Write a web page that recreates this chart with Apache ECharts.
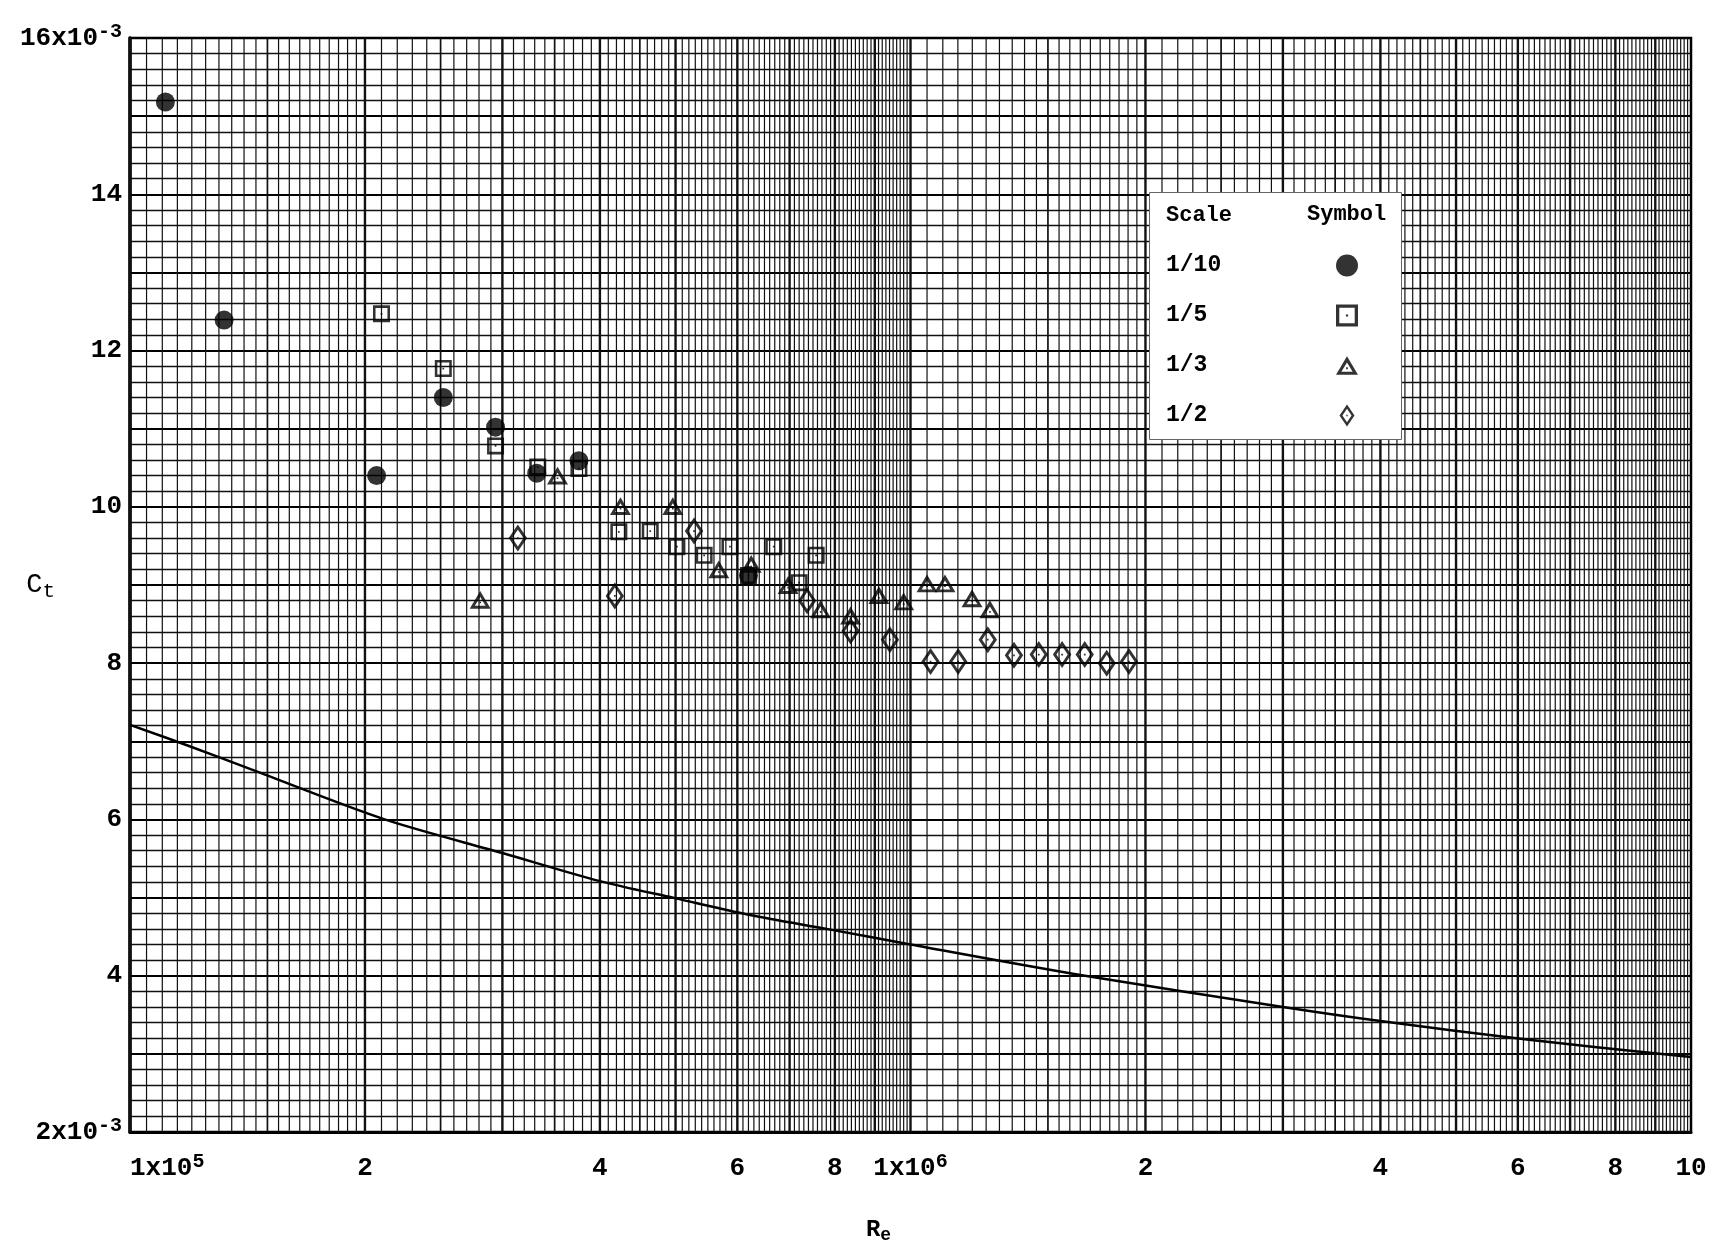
<!DOCTYPE html>
<html>
<head>
<meta charset="utf-8">
<title>Ct vs Re</title>
<script src="https://cdn.jsdelivr.net/npm/echarts@6/dist/echarts.min.js"></script>
<style>
  html, body { margin: 0; padding: 0; background: #fff; }
  #main { width: 1722px; height: 1243px; }
</style>
</head>
<body>
<div id="main"></div>
<script>
// x tick labels (Reynolds number)
var reTicks = [1e5, 2e5, 4e5, 6e5, 8e5, 1e6, 2e6, 4e6, 6e6, 8e6, 1e7];

// [Re, Ct x 10^3]
var scale10 = [[1.11e5, 15.18], [1.32e5, 12.39], [2.07e5, 10.40], [2.52e5, 11.40], [2.94e5, 11.02],
  [3.32e5, 10.43], [3.76e5, 10.59], [6.2e5, 9.12]];
var scale5 = [[2.10e5, 12.47], [2.52e5, 11.77], [2.94e5, 10.78], [3.33e5, 10.51], [3.76e5, 10.49],
  [4.23e5, 9.68], [4.64e5, 9.69], [5.02e5, 9.49], [5.44e5, 9.38], [5.87e5, 9.49], [6.2e5, 9.12],
  [6.68e5, 9.49], [7.2e5, 9.03], [7.57e5, 9.38]];
var scale3 = [[2.81e5, 8.81], [3.53e5, 10.40], [4.25e5, 10.01], [4.96e5, 10.01], [5.68e5, 9.20],
  [6.25e5, 9.27], [6.97e5, 9.00], [7.67e5, 8.69], [8.38e5, 8.61], [9.11e5, 8.87], [9.80e5, 8.79],
  [1.05e6, 9.02], [1.107e6, 9.02], [1.199e6, 8.83], [1.264e6, 8.69]];
var scale2 = [[3.14e5, 9.60], [4.18e5, 8.86], [5.28e5, 9.69], [7.37e5, 8.80], [8.38e5, 8.41],
  [9.41e5, 8.30], [1.061e6, 8.02], [1.151e6, 8.02], [1.256e6, 8.30], [1.357e6, 8.10], [1.46e6, 8.11],
  [1.564e6, 8.11], [1.672e6, 8.11], [1.784e6, 8.00], [1.905e6, 8.02]];

// friction line
var lineRe = [1e5, 1.19e5, 1.43e5, 2.12e5, 3.0e5, 4.0e5, 5.0e5, 6.2e5, 7.9e5, 1.0e6, 1.65e6, 3.0e6, 4.0e6, 6.2e6, 1e7];
var lineCt = [7.21, 6.94, 6.64, 6.00, 5.57, 5.21, 4.99, 4.78, 4.59, 4.40, 4.01, 3.60, 3.42, 3.18, 2.96];

var FONT = '"Liberation Mono", "DejaVu Sans Mono", monospace';

// log graph paper rulings (vertical)
var paper = [];
[1e5, 1e6].forEach(function (dec) {
  for (var m = 100; m < 1000; m += 5) {
    if (m >= 200 && m % 10 !== 0) continue;
    var lvl = 0;
    if (m % 100 === 0) lvl = 2;
    else if (m < 500 && m % 50 === 0) lvl = 1;
    paper.push([dec * m / 100, 9, lvl]);
  }
});
var paperWidth = [1.2, 1.7, 2.4];

// open symbols with a centre dot (outer ring + hole + dot)
var SQ = 'path://M0,0L20,0L20,20L0,20Z M3,3L3,17L17,17L17,3Z M9,9L11,9L11,11L9,11Z';
var TRI = 'path://M10,0L20,17L0,17Z M10,5.8L4.9,14.2L15.1,14.2Z M9.2,10.2L10.8,10.2L10.8,11.8L9.2,11.8Z';
var DIA = 'path://M7.5,0L15,11L7.5,22L0,11Z M7.5,4.2L2.9,11L7.5,17.8L12.1,11Z M6.8,10.3L8.2,10.3L8.2,11.7L6.8,11.7Z';

var tickRich = {
  m: { fontFamily: FONT, fontWeight: 'bold', fontSize: 26, color: '#000', lineHeight: 32 },
  s: { fontFamily: FONT, fontWeight: 'bold', fontSize: 20, color: '#000', verticalAlign: 'top', lineHeight: 18 }
};

var chart = echarts.init(document.getElementById('main'));
chart.setOption({
  backgroundColor: '#fff',
  animation: false,
  grid: {
    left: 130, right: 31, top: 38, bottom: 111,
    outerBoundsMode: 'none',
    show: true, borderColor: '#000', borderWidth: 2.5, backgroundColor: '#fff'
  },
  xAxis: {
    type: 'log',
    logBase: 10,
    min: 1e5,
    max: 1e7,
    name: '{r|R}{e|e}',
    nameLocation: 'middle',
    nameGap: 84,
    nameMoveOverlap: false,
    nameTextStyle: {
      padding: [0, 64, 0, 0],
      rich: {
        r: { fontFamily: FONT, fontWeight: 'bold', fontSize: 24, color: '#000' },
        e: { fontFamily: FONT, fontWeight: 'bold', fontSize: 18, color: '#000', verticalAlign: 'bottom', padding: [10, 0, 0, 0] }
      }
    },
    axisLine: { lineStyle: { color: '#000', width: 3 } },
    axisTick: { show: false },
    splitLine: { show: false },
    axisLabel: {
      customValues: reTicks,
      margin: 20,
      alignMinLabel: 'left',
      formatter: function (v) {
        var p = Math.floor(Math.log10(v) + 1e-9);
        var d = Math.round(v / Math.pow(10, p));
        if (v >= 9.9e6) return '{m|10}';
        if (d === 1) return '{m|1x10}{s|' + p + '}';
        return '{m|' + d + '}';
      },
      rich: tickRich
    }
  },
  yAxis: {
    type: 'value',
    min: 2,
    max: 16,
    interval: 1,
    name: '{c|C}{t|t}',
    nameLocation: 'middle',
    nameRotate: 0,
    nameGap: 75,
    nameMoveOverlap: false,
    nameTextStyle: {
      rich: {
        c: { fontFamily: FONT, fontSize: 27, color: '#000' },
        t: { fontFamily: FONT, fontSize: 21, color: '#000', verticalAlign: 'bottom', padding: [12, 0, 0, 0] }
      }
    },
    axisLine: { show: true, lineStyle: { color: '#000', width: 3.5 } },
    axisTick: { show: false },
    minorTick: { show: false, splitNumber: 5 },
    splitLine: { show: true, lineStyle: { color: '#000', width: 2.2 } },
    minorSplitLine: { show: true, lineStyle: { color: '#111', width: 1.3 } },
    axisLabel: {
      margin: 8,
      formatter: function (v) {
        if (v === 16 || v === 2) return '{m|' + v + 'x10}{s|-3}';
        if (v % 2 === 0) return '{m|' + v + '}';
        return '';
      },
      rich: tickRich
    }
  },
  legend: {
    data: ['1/10', '1/5', '1/3', '1/2'],
    orient: 'vertical',
    left: 1166,
    top: 254,
    padding: 0,
    align: 'right',
    itemWidth: 22,
    itemHeight: 22,
    itemGap: 27,
    z: 20,
    selectedMode: false,
    formatter: '{a|{name}}',
    textStyle: {
      rich: {
        a: { fontFamily: FONT, fontWeight: 'bold', fontSize: 23, color: '#000', width: 165, lineHeight: 22, align: 'left' }
      }
    }
  },
  graphic: [
    { type: 'rect', left: 1149, top: 192, z: 10, shape: { width: 252, height: 247 },
      style: { fill: '#fff', stroke: '#666', lineWidth: 1 } },
    { type: 'text', left: 1166, top: 204, z: 21,
      style: { text: 'Scale', fontFamily: FONT, fontWeight: 'bold', fontSize: 22, fill: '#000' } },
    { type: 'text', left: 1307, top: 203, z: 21,
      style: { text: 'Symbol', fontFamily: FONT, fontWeight: 'bold', fontSize: 22, fill: '#000' } }
  ],
  series: [
    {
      name: 'paper',
      type: 'custom',
      silent: true,
      z: 1,
      data: paper,
      encode: { x: 0, y: 1 },
      renderItem: function (params, api) {
        var v = api.value(0);
        var p1 = api.coord([v, 16]);
        var p2 = api.coord([v, 2]);
        return {
          type: 'line',
          shape: { x1: p1[0], y1: p1[1], x2: p2[0], y2: p2[1] },
          style: { stroke: '#111', lineWidth: paperWidth[api.value(2)] }
        };
      }
    },
    {
      name: 'line',
      type: 'line',
      data: lineRe.map(function (r, i) { return [r, lineCt[i]]; }),
      showSymbol: false,
      smooth: 0.3,
      silent: true,
      z: 3,
      lineStyle: { color: '#000', width: 2.5 }
    },
    {
      name: '1/10', type: 'scatter', data: scale10, z: 4,
      symbol: 'circle', symbolSize: 19,
      itemStyle: { color: '#000' }
    },
    {
      name: '1/5', type: 'scatter', data: scale5, z: 5,
      symbol: SQ, symbolSize: 17, symbolKeepAspect: true,
      itemStyle: { color: '#000' }
    },
    {
      name: '1/3', type: 'scatter', data: scale3, z: 5,
      symbol: TRI, symbolSize: 21, symbolKeepAspect: true,
      itemStyle: { color: '#000' }
    },
    {
      name: '1/2', type: 'scatter', data: scale2, z: 5,
      symbol: DIA, symbolSize: 27, symbolKeepAspect: true,
      itemStyle: { color: '#000' }
    }
  ]
});
</script>
</body>
</html>
